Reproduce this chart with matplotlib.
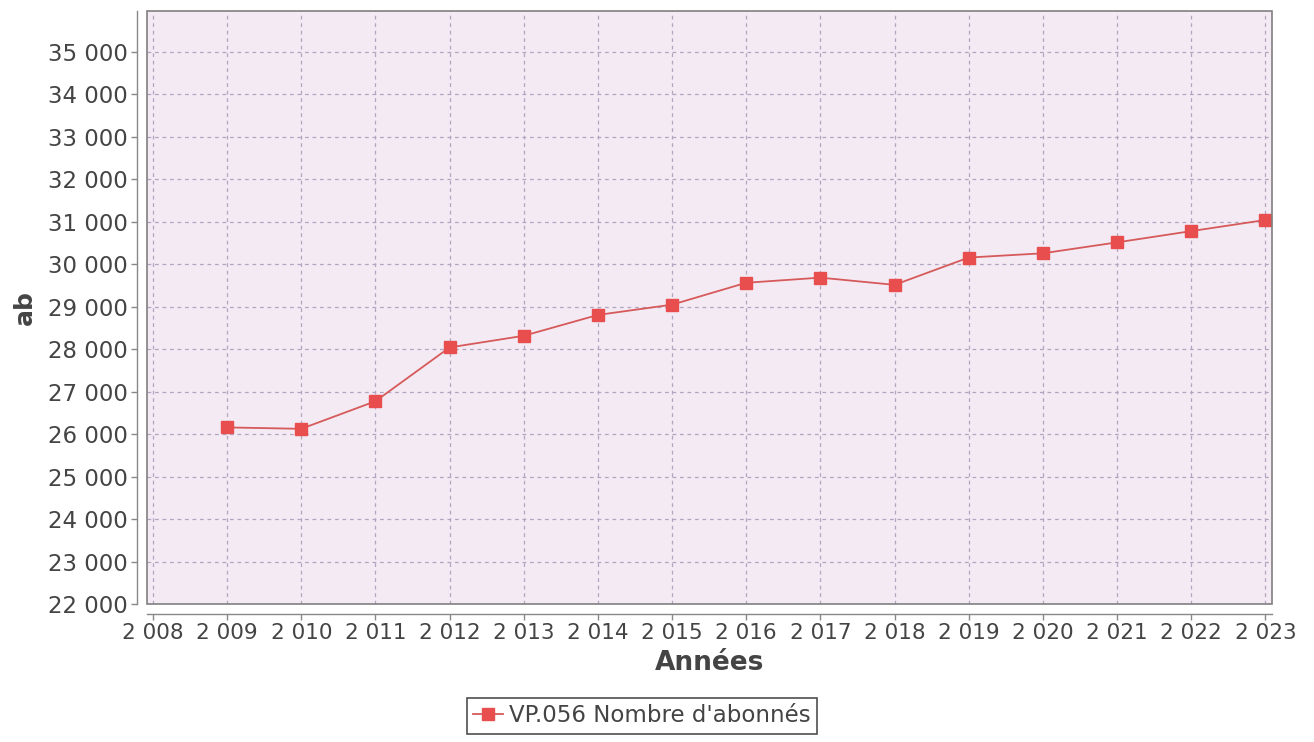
import matplotlib
matplotlib.use("Agg")
import matplotlib.pyplot as plt
from matplotlib.ticker import FuncFormatter, MultipleLocator
from matplotlib.patches import Rectangle

years = [2009, 2010, 2011, 2012, 2013, 2014, 2015, 2016, 2017, 2018, 2019, 2020, 2021, 2022, 2023]
abonnes = [26157, 26124, 26773, 28040, 28314, 28805, 29047, 29562, 29683, 29513, 30156, 30256, 30513, 30778, 31040]
series_label = "VP.056 Nombre d'abonnés"
x_title = "Années"
y_title = "ab"

plt.rcParams['font.family'] = ['DejaVu Sans']

fig = plt.figure(figsize=(13.14, 7.42), dpi=100)
ax = fig.add_axes([147/1314, 1-604/742, (1272-147)/1314, (604-11)/742])
ax.set_facecolor('#f4eaf4')

ax.plot(years, abonnes, color='#d65a5a', linewidth=1.3, marker='s', markersize=9,
        markerfacecolor='#e84e4e', markeredgecolor='#e84e4e', label=series_label, zorder=3, clip_on=False)

ax.set_xlim(2007.92, 2023.09)
ax.set_ylim(22000, 35960)
ax.xaxis.set_major_locator(MultipleLocator(1))
ax.yaxis.set_major_locator(MultipleLocator(1000))

def fmt(v, pos):
    s = f"{int(round(v)):,}".replace(",", " ")
    return s
ax.xaxis.set_major_formatter(FuncFormatter(fmt))
ax.yaxis.set_major_formatter(FuncFormatter(fmt))

ax.grid(True, color='#b0a6c0', linestyle=(0, (3, 3)), linewidth=0.9)
ax.set_axisbelow(True)

for s in ['top', 'right']:
    ax.spines[s].set_visible(False)
for s in ['left', 'bottom']:
    ax.spines[s].set_position(('outward', 7))
    ax.spines[s].set_color('#888888')
    ax.spines[s].set_linewidth(1.0)

ax.add_patch(Rectangle((0, 0), 1, 1, transform=ax.transAxes, fill=False,
                       edgecolor='#808080', linewidth=1.2, clip_on=False, zorder=4))

ax.tick_params(axis='both', colors='#888888', labelcolor='#444444',
               length=4, width=1.0, direction='out', pad=3)
ax.tick_params(axis='x', labelsize=15.5)
ax.tick_params(axis='y', labelsize=16.5)

ax.set_xlabel(x_title, fontsize=19, fontweight='bold', color='#444444', labelpad=5)
ax.set_ylabel(y_title, fontsize=18, fontweight='bold', color='#444444', labelpad=8)

leg = fig.legend(loc='center', bbox_to_anchor=(642/1314, 1-716/742), frameon=True,
                 fontsize=16.5, handlelength=1.3, handletextpad=0.25, borderpad=0.3,
                 fancybox=False, edgecolor='#222222')
leg.get_frame().set_linewidth(1.2)
for t in leg.get_texts():
    t.set_color('#444444')

fig.savefig('out.png', dpi=100, facecolor='white')
